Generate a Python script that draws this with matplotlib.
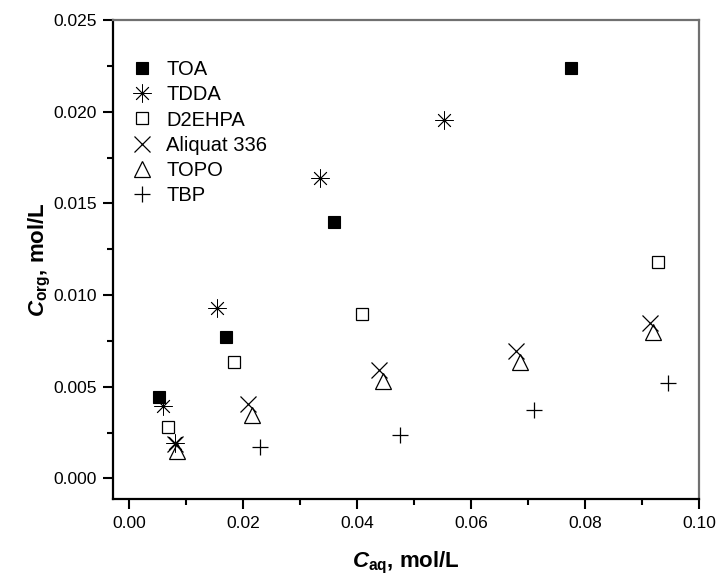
import matplotlib
matplotlib.use("Agg")
import matplotlib.pyplot as plt
from matplotlib.ticker import MultipleLocator

plt.rcParams['font.family'] = ['Liberation Sans', 'DejaVu Sans']
plt.rcParams['mathtext.fontset'] = 'custom'
plt.rcParams['mathtext.it'] = 'Liberation Sans:italic:bold'
plt.rcParams['mathtext.rm'] = 'Liberation Sans:bold'
plt.rcParams['mathtext.bf'] = 'Liberation Sans:bold'

# Data (C_aq, C_org)
toa_x = [0.0053, 0.0171, 0.0359, 0.0775]
toa_y = [0.00446, 0.0077, 0.0140, 0.02237]
tdda_x = [0.0059, 0.0080, 0.0154, 0.0335, 0.0553]
tdda_y = [0.00395, 0.00192, 0.0093, 0.01637, 0.01955]
d2ehpa_x = [0.0069, 0.0185, 0.0409, 0.0928]
d2ehpa_y = [0.00282, 0.00634, 0.00897, 0.0118]
aliquat_x = [0.0081, 0.0208, 0.0439, 0.0679, 0.0914]
aliquat_y = [0.0019, 0.00406, 0.00592, 0.00695, 0.0085]
topo_x = [0.0084, 0.0215, 0.0446, 0.0686, 0.0920]
topo_y = [0.00152, 0.00346, 0.00532, 0.00637, 0.0080]
tbp_x = [0.0230, 0.0475, 0.0711, 0.0946]
tbp_y = [0.00173, 0.00237, 0.00373, 0.0052]

fig = plt.figure(figsize=(7.19, 5.81), dpi=100)
ax = fig.add_axes([0.1576, 0.1411, 0.972 - 0.1576, 0.9656 - 0.1411])

ax.plot(toa_x, toa_y, ls='none', marker='s', ms=9, mfc='black', mec='black', mew=0.8, label='TOA')
ax.plot(tdda_x, tdda_y, ls='none', marker=(8, 2, 0), ms=13, mec='black', mew=0.6, label='TDDA')
ax.plot(d2ehpa_x, d2ehpa_y, ls='none', marker='s', ms=9, mfc='none', mec='black', mew=0.9, label='D2EHPA')
ax.plot(aliquat_x, aliquat_y, ls='none', marker='x', ms=12, mec='black', mew=0.9, label='Aliquat 336')
ax.plot(topo_x, topo_y, ls='none', marker='^', ms=12, mfc='none', mec='black', mew=0.9, label='TOPO')
ax.plot(tbp_x, tbp_y, ls='none', marker='+', ms=12, mec='black', mew=0.9, label='TBP')

ax.set_xlim(-0.00275, 0.100)
ax.set_ylim(-0.00112, 0.025)
ax.xaxis.set_major_locator(MultipleLocator(0.02))
ax.xaxis.set_minor_locator(MultipleLocator(0.01))
ax.yaxis.set_major_locator(MultipleLocator(0.005))
ax.yaxis.set_minor_locator(MultipleLocator(0.0025))
ax.xaxis.set_major_formatter(plt.FuncFormatter(lambda v, p: f"{v:.2f}"))
ax.yaxis.set_major_formatter(plt.FuncFormatter(lambda v, p: f"{v:.3f}"))

ax.tick_params(which='both', direction='out', top=False, right=False, width=1.5, labelsize=12.5)
ax.tick_params(which='major', length=7, pad=5)
ax.tick_params(which='minor', length=4)
for s in ['left', 'bottom']:
    ax.spines[s].set_linewidth(1.6)
    ax.spines[s].set_color('black')
for s in ['top', 'right']:
    ax.spines[s].set_linewidth(1.6)
    ax.spines[s].set_color('#707070')

ax.set_xlabel(r'$\mathit{C}_{\mathrm{aq}}$, mol/L', fontsize=16, fontweight='bold', labelpad=14)
ax.set_ylabel(r'$\mathit{C}_{\mathrm{org}}$, mol/L', fontsize=16, fontweight='bold', labelpad=0)

ax.legend(loc='upper left', frameon=False, fontsize=14.5, handletextpad=0.6,
          labelspacing=0.3, borderaxespad=0.3, handlelength=1.2,
          bbox_to_anchor=(0.004, 0.945))

fig.savefig('out.png', dpi=100)
